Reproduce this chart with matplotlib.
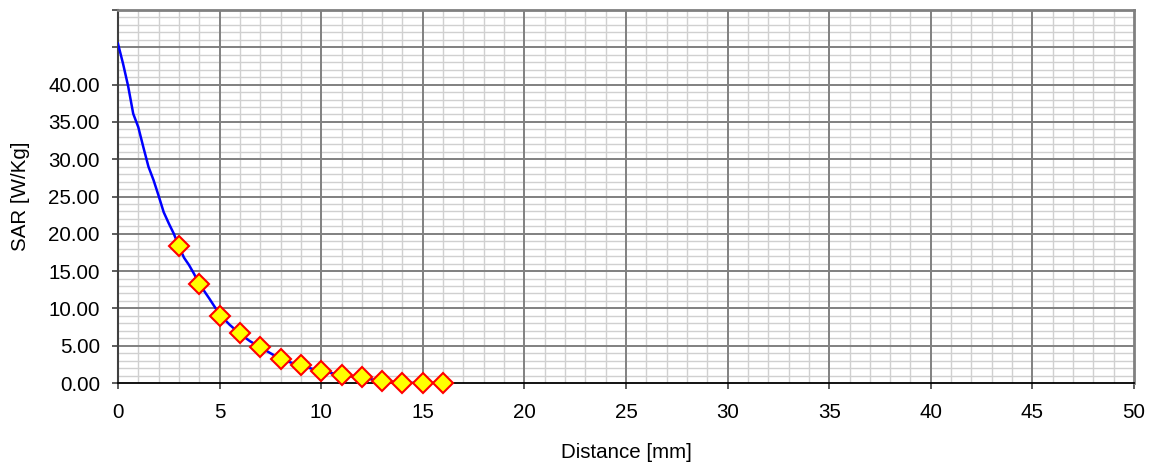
import matplotlib
matplotlib.use("Agg")
import matplotlib.pyplot as plt
from matplotlib.ticker import MultipleLocator, FixedLocator, FuncFormatter

plt.rcParams['font.family'] = ['Liberation Sans', 'DejaVu Sans']

# Continuous SAR curve
line_x = [0, 0.25, 0.5, 0.75, 1.0, 1.25, 1.5, 1.75, 2.0, 2.25, 2.5, 2.75, 3.0,
          3.25, 3.5, 3.75, 4.0, 4.5, 5.0, 5.5, 6.0, 6.5, 7.0, 7.5, 8.0, 9.0,
          10.0, 11.0, 12.0, 13.0, 14.0, 15.0, 16.0]
line_y = [45.5, 42.8, 39.8, 36.1, 34.3, 31.6, 29.0, 27.2, 25.1, 22.9, 21.4, 20.0, 18.3,
          16.8, 15.8, 14.6, 13.3, 11.3, 9.2, 7.8, 6.6, 5.6, 4.8, 4.0, 3.2, 2.3,
          1.6, 1.07, 0.7, 0.27, 0.04, 0.0, 0.0]

# Measured points
pts_x = [3, 4, 5, 6, 7, 8, 9, 10, 11, 12, 13, 14, 15, 16]
pts_y = [18.4, 13.3, 9.0, 6.65, 4.8, 3.2, 2.4, 1.6, 1.07, 0.85, 0.3, 0.05, 0.0, 0.0]

x_ticks = [0, 5, 10, 15, 20, 25, 30, 35, 40, 45, 50]
y_ticks = [0, 5, 10, 15, 20, 25, 30, 35, 40, 45, 50]
y_labeled_max = 40

fig = plt.figure(figsize=(11.6, 4.68), dpi=100)
ax = fig.add_axes([0.1017, 0.1816, 0.8759, 0.797])

ax.set_xlim(0, 50)
ax.set_ylim(0, 50)
ax.xaxis.set_major_locator(FixedLocator(x_ticks))
ax.yaxis.set_major_locator(FixedLocator(y_ticks))
ax.xaxis.set_minor_locator(MultipleLocator(1))
ax.yaxis.set_minor_locator(MultipleLocator(1))
ax.yaxis.set_major_formatter(FuncFormatter(lambda v, p: f"{v:.2f}" if v <= y_labeled_max else ""))

ax.grid(which='minor', color='#d0d0d0', linewidth=1.0, zorder=0)
ax.set_axisbelow(True)
for xv in x_ticks[1:-1]:
    ax.axvline(xv, color='#808080', linewidth=1.4, zorder=1)
for yv in y_ticks[1:-1]:
    ax.axhline(yv, color='#808080', linewidth=1.4, zorder=1)

ax.plot(line_x, line_y, color='#0000ff', linewidth=1.8, zorder=3)
ax.plot(pts_x, pts_y, linestyle='none', marker='D', markersize=10.5,
        markerfacecolor='#ffff00', markeredgecolor='#ff0000', markeredgewidth=1.5, zorder=4,
        clip_on=False)

for side in ['top', 'right']:
    ax.spines[side].set_color('#808080')
    ax.spines[side].set_linewidth(2)
ax.spines['left'].set_color('#404040')
ax.spines['left'].set_linewidth(1.5)
ax.spines['bottom'].set_color('#000000')
ax.spines['bottom'].set_linewidth(1.3)

ax.tick_params(which='major', direction='out', length=4.5, width=1.2, colors='#404040',
               labelcolor='black', labelsize=14.8)
ax.tick_params(axis='x', which='major', pad=10)
ax.tick_params(axis='y', which='major', pad=8.5)
ax.tick_params(which='minor', length=0)

ax.set_xlabel('Distance [mm]', fontsize=14.8, labelpad=15)
ax.set_ylabel('SAR [W/Kg]', fontsize=14.8, labelpad=13)

fig.savefig('out.png', dpi=100)
